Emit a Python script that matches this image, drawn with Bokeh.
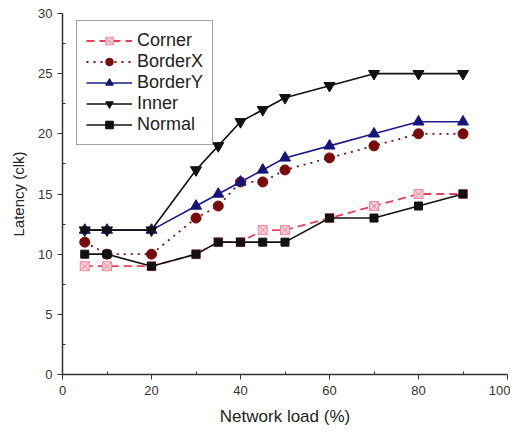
from bokeh.plotting import figure
from bokeh.embed import file_html
from bokeh.resources import INLINE
from bokeh.models import Range1d, Legend, LegendItem, FixedTicker

# Data
load = [5, 10, 20, 30, 35, 40, 45, 50, 60, 70, 80, 90]
corner = [9, 9, 9, 10, 11, 11, 12, 12, 13, 14, 15, 15]
borderx = [11, 10, 10, 13, 14, 16, 16, 17, 18, 19, 20, 20]
bordery = [12, 12, 12, 14, 15, 16, 17, 18, 19, 20, 21, 21]
inner = [12, 12, 12, 17, 19, 21, 22, 23, 24, 25, 25, 25]
normal = [10, 10, 9, 10, 11, 11, 11, 11, 13, 13, 14, 15]

x_ticks = [0, 20, 40, 60, 80, 100]
y_ticks = [0, 5, 10, 15, 20, 25, 30]

FONT = "Liberation Sans"

p = figure(frame_width=445, frame_height=361, output_backend="svg", toolbar_location=None,
           x_range=Range1d(0, 100), y_range=Range1d(0, 30),
           min_border_left=62, min_border_right=3, min_border_top=13, min_border_bottom=56)
p.outline_line_color = None
p.xgrid.visible = False
p.ygrid.visible = False

p.xaxis.ticker = FixedTicker(ticks=x_ticks, minor_ticks=[10, 30, 50, 70, 90])
p.yaxis.ticker = FixedTicker(ticks=y_ticks, minor_ticks=[2.5, 7.5, 12.5, 17.5, 22.5, 27.5])
for ax in (p.xaxis[0], p.yaxis[0]):
    ax.axis_line_width = 1.5
    ax.axis_line_color = "#333333"
    ax.major_tick_line_color = "#333333"
    ax.minor_tick_line_color = "#333333"
    ax.major_tick_out = 5
    ax.major_tick_in = 0
    ax.minor_tick_out = 0
    ax.minor_tick_in = 3
    ax.major_label_text_font = FONT
    ax.major_label_text_font_size = "13px"
    ax.major_label_text_color = "#333333"
    ax.axis_label_text_font = FONT
    ax.axis_label_text_font_style = "normal"
    ax.axis_label_text_color = "#222222"
p.xaxis.axis_label = "Network load (%)"
p.yaxis.axis_label = "Latency (clk)"
p.xaxis.axis_label_text_font_size = "17px"
p.yaxis.axis_label_text_font_size = "15px"
p.yaxis.axis_label_standoff = 8
p.xaxis.axis_label_standoff = 9
p.xaxis.major_label_standoff = 6

items = []
l1 = p.line(load, corner, line_color="#e8405a", line_width=1.8, line_dash="8 5")
m1 = p.scatter(load, corner, marker="square_x", size=9, fill_color="#fbd0d8",
               line_color="#f08a9c")
items.append(LegendItem(label="Corner", renderers=[l1, m1]))

l2 = p.line(load, borderx, line_color="#7a1010", line_width=1.8, line_dash="2 5")
m2 = p.scatter(load, borderx, marker="circle", size=10, fill_color="#7a0a0a",
               line_color="#7a0a0a")
items.append(LegendItem(label="BorderX", renderers=[l2, m2]))

l3 = p.line(load, bordery, line_color="#1a1a8a", line_width=1.6)
m3 = p.scatter(load, bordery, marker="triangle", size=11, fill_color="#14147a",
               line_color="#14147a")
items.append(LegendItem(label="BorderY", renderers=[l3, m3]))

l4 = p.line(load, inner, line_color="#111111", line_width=1.6)
m4 = p.scatter(load, inner, marker="inverted_triangle", size=11, fill_color="#111111",
               line_color="#111111")
items.append(LegendItem(label="Inner", renderers=[l4, m4]))

l5 = p.line(load, normal, line_color="#111111", line_width=1.6)
m5 = p.scatter(load, normal, marker="square", size=8, fill_color="#111111",
               line_color="#111111")
items.append(LegendItem(label="Normal", renderers=[l5, m5]))

legend = Legend(items=items, location=(14, 229))
legend.glyph_width = 46
legend.glyph_height = 19
legend.label_text_font = FONT
legend.label_text_font_size = "18px"
legend.label_text_color = "#222222"
legend.label_standoff = 5
legend.label_height = 19
legend.spacing = 0
legend.padding = 9
legend.margin = 0
legend.border_line_color = "#444444"
legend.border_line_width = 1
p.add_layout(legend, "center")

open("out.html", "w").write(file_html(p, INLINE))
